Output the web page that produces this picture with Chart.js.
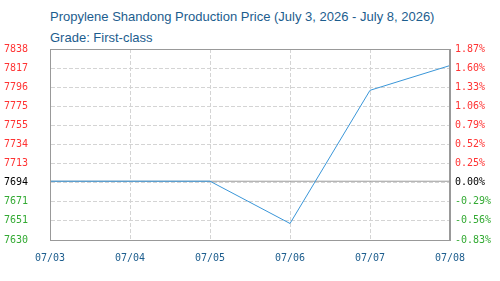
<!DOCTYPE html>
<html>
<head>
<meta charset="utf-8">
<script src="https://cdn.jsdelivr.net/npm/chart.js@4"></script>
<style>
  html, body { margin: 0; padding: 0; background: #fff; }
  #wrap { position: relative; width: 500px; height: 281px; }
  .ttl { position: absolute; left: 50px; font-family: "Liberation Sans", Arial, sans-serif; font-size: 13px; color: #1c5d8e; white-space: nowrap; }
  #t1 { top: 9px; }
  #t2 { top: 30px; }
  canvas { position: absolute; left: 0; top: 0; }
</style>
</head>
<body>
<div id="wrap">
  <div class="ttl" id="t1">Propylene Shandong Production Price (July 3, 2026 - July 8, 2026)</div>
  <div class="ttl" id="t2">Grade: First-class</div>
  <canvas id="price-chart" width="500" height="281"></canvas>
</div>
<script>
// chart data
var dates = ['07/03', '07/04', '07/05', '07/06', '07/07', '07/08'];
var prices = [7694, 7694, 7694, 7648, 7793, 7820];
var basePrice = 7694;

// axis ticks (bottom to top)
var priceTicks = [7630, 7650.8, 7671.6, 7692.4, 7713.2, 7734, 7754.8, 7775.6, 7796.4, 7817.2, 7838];
var priceLabels = ['7630', '7651', '7671', '7694', '7713', '7734', '7755', '7775', '7796', '7817', '7838'];
var pctLabels = ['-0.83%', '-0.56%', '-0.29%', '0.00%', '0.25%', '0.52%', '0.79%', '1.06%', '1.33%', '1.60%', '1.87%'];

function tickColor(ctx) {
  if (ctx.index < 3) return '#33aa33';
  if (ctx.index == 3) return '#000000';
  return '#ff3333';
}

var tickFont = { family: '"DejaVu Sans Mono", monospace', size: 10 };

const ctx_price = document.getElementById('price-chart');
new Chart(ctx_price, {
  type: 'line',
  data: {
    labels: dates,
    datasets: [{
      label: 'Price',
      data: prices,
      borderColor: '#3a96d8',
      borderWidth: 1,
      pointRadius: 0,
      fill: false,
      tension: 0,
      order: 1,
      yAxisID: 'y'
    }, {
      label: 'Base',
      data: dates.map(function () { return basePrice; }),
      borderColor: '#999999',
      borderWidth: 1,
      pointRadius: 0,
      fill: false,
      order: 2,
      yAxisID: 'y'
    }]
  },
  options: {
    responsive: false,
    animation: false,
    layout: { padding: { top: 49, left: 0, right: 0, bottom: 0 } },
    plugins: {
      legend: { display: false },
      tooltip: { enabled: false }
    },
    scales: {
      x: {
        offset: false,
        grid: { color: '#d4d4d4', drawTicks: false },
        border: { color: '#999999', dash: [4, 2], display: true },
        ticks: { color: '#1c5d8e', font: tickFont, padding: 12, maxRotation: 0, autoSkip: false },
        afterFit: function (scale) { scale.height = 41; }
      },
      y: {
        position: 'left',
        min: 7630,
        max: 7838,
        afterBuildTicks: function (scale) {
          scale.ticks = priceTicks.map(function (v) { return { value: v }; });
        },
        grid: { color: '#d4d4d4', drawTicks: false },
        border: { color: '#999999', dash: [4, 2] },
        ticks: {
          font: tickFont,
          padding: 22,
          color: tickColor,
          callback: function (v, i) { return priceLabels[i]; }
        },
        afterFit: function (scale) { scale.width = 50; }
      },
      y1: {
        position: 'right',
        min: 7630,
        max: 7838,
        afterBuildTicks: function (scale) {
          scale.ticks = priceTicks.map(function (v) { return { value: v }; });
        },
        grid: { display: false, drawTicks: false },
        border: { color: '#999999' },
        ticks: {
          font: tickFont,
          padding: 5,
          color: tickColor,
          callback: function (v, i) { return pctLabels[i]; }
        },
        afterFit: function (scale) { scale.width = 50; }
      }
    }
  },
  plugins: [{
    id: 'frame',
    afterDraw: function (chart) {
      var a = chart.chartArea, c = chart.ctx;
      c.save();
      c.strokeStyle = '#999999';
      c.lineWidth = 1;
      c.strokeRect(Math.round(a.left) + 0.5, Math.round(a.top) + 0.5, Math.round(a.right - a.left) - 1, Math.round(a.bottom - a.top));
      c.restore();
    }
  }]
});
</script>
</body>
</html>
